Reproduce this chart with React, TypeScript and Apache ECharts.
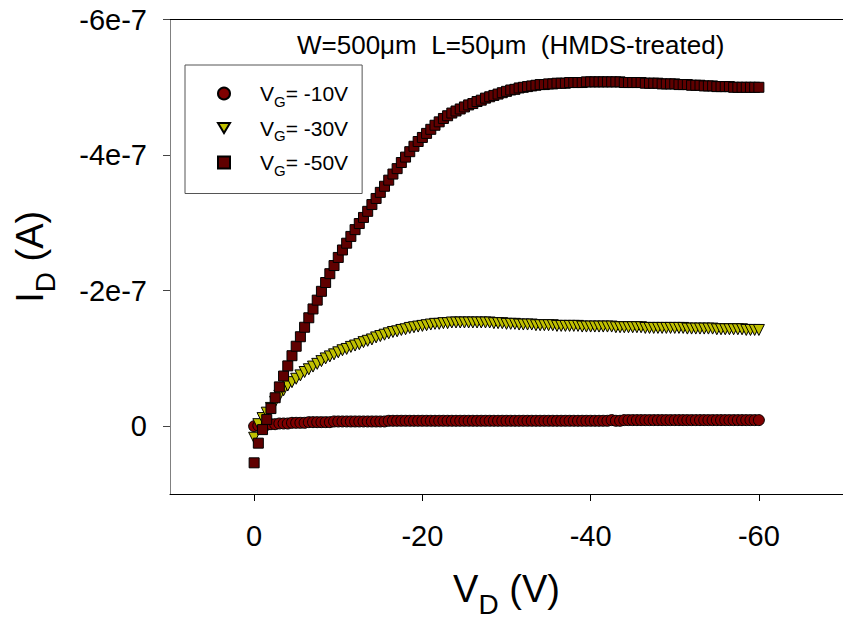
import React, { useEffect, useRef } from "react";
import * as echarts from "echarts";

const FONT = "'Liberation Sans', Arial, Helvetica, sans-serif";

// Drain voltage V_D (V)
const vd = [
  0, -0.5, -1, -1.5, -2, -2.5, -3, -3.5, -4, -4.5,
  -5, -5.5, -6, -6.5, -7, -7.5, -8, -8.5, -9, -9.5,
  -10, -10.5, -11, -11.5, -12, -12.5, -13, -13.5, -14, -14.5,
  -15, -15.5, -16, -16.5, -17, -17.5, -18, -18.5, -19, -19.5,
  -20, -20.5, -21, -21.5, -22, -22.5, -23, -23.5, -24, -24.5,
  -25, -25.5, -26, -26.5, -27, -27.5, -28, -28.5, -29, -29.5,
  -30, -30.5, -31, -31.5, -32, -32.5, -33, -33.5, -34, -34.5,
  -35, -35.5, -36, -36.5, -37, -37.5, -38, -38.5, -39, -39.5,
  -40, -40.5, -41, -41.5, -42, -42.5, -43, -43.5, -44, -44.5,
  -45, -45.5, -46, -46.5, -47, -47.5, -48, -48.5, -49, -49.5,
  -50, -50.5, -51, -51.5, -52, -52.5, -53, -53.5, -54, -54.5,
  -55, -55.5, -56, -56.5, -57, -57.5, -58, -58.5, -59, -59.5,
  -60,
];

// Drain current I_D in units of 1e-7 A
const idVg10 = [
  0, -0.01, -0.02, -0.02, -0.03, -0.03, -0.04, -0.04, -0.04, -0.05,
  -0.05, -0.05, -0.05, -0.06, -0.06, -0.06, -0.06, -0.06, -0.06, -0.07,
  -0.07, -0.07, -0.07, -0.07, -0.07, -0.07, -0.07, -0.07, -0.07, -0.07,
  -0.07, -0.07, -0.08, -0.08, -0.08, -0.08, -0.08, -0.08, -0.08, -0.08,
  -0.08, -0.08, -0.08, -0.08, -0.08, -0.08, -0.08, -0.08, -0.08, -0.08,
  -0.08, -0.08, -0.08, -0.08, -0.08, -0.08, -0.08, -0.08, -0.08, -0.08,
  -0.08, -0.08, -0.08, -0.08, -0.08, -0.08, -0.08, -0.08, -0.08, -0.08,
  -0.08, -0.08, -0.08, -0.08, -0.08, -0.08, -0.08, -0.08, -0.08, -0.08,
  -0.08, -0.08, -0.08, -0.08, -0.08, -0.09, -0.08, -0.08, -0.09, -0.09,
  -0.09, -0.09, -0.09, -0.09, -0.09, -0.09, -0.09, -0.09, -0.09, -0.09,
  -0.09, -0.09, -0.09, -0.09, -0.09, -0.09, -0.09, -0.09, -0.09, -0.09,
  -0.09, -0.09, -0.09, -0.09, -0.09, -0.09, -0.09, -0.09, -0.09, -0.09,
  -0.09,
];

const idVg30 = [
  0.17, -0.03, -0.12, -0.2, -0.27, -0.36, -0.45, -0.53, -0.6, -0.65,
  -0.7, -0.75, -0.8, -0.84, -0.88, -0.92, -0.96, -1.0, -1.03, -1.06,
  -1.09, -1.12, -1.14, -1.17, -1.19, -1.21, -1.24, -1.26, -1.28, -1.31,
  -1.33, -1.35, -1.37, -1.39, -1.4, -1.42, -1.43, -1.45, -1.46, -1.47,
  -1.48, -1.49, -1.5, -1.51, -1.51, -1.52, -1.52, -1.53, -1.53, -1.53,
  -1.53, -1.53, -1.53, -1.53, -1.53, -1.53, -1.53, -1.52, -1.52, -1.52,
  -1.51, -1.51, -1.51, -1.5, -1.5, -1.5, -1.5, -1.49, -1.49, -1.49,
  -1.49, -1.49, -1.48, -1.48, -1.48, -1.48, -1.48, -1.48, -1.47, -1.47,
  -1.47, -1.47, -1.47, -1.47, -1.47, -1.47, -1.46, -1.46, -1.46, -1.46,
  -1.46, -1.46, -1.46, -1.45, -1.45, -1.45, -1.45, -1.45, -1.45, -1.45,
  -1.45, -1.45, -1.45, -1.44, -1.44, -1.44, -1.44, -1.44, -1.44, -1.44,
  -1.43, -1.43, -1.43, -1.43, -1.43, -1.43, -1.43, -1.42, -1.42, -1.42,
  -1.42,
];

const idVg50 = [
  0.54, 0.25, 0.05, -0.1, -0.26, -0.42, -0.58, -0.74, -0.89, -1.04,
  -1.18, -1.32, -1.46, -1.6, -1.73, -1.86, -1.99, -2.12, -2.25, -2.37,
  -2.49, -2.6, -2.7, -2.8, -2.9, -2.99, -3.08, -3.17, -3.27, -3.36,
  -3.45, -3.54, -3.63, -3.72, -3.8, -3.89, -3.97, -4.05, -4.13, -4.2,
  -4.26, -4.32, -4.38, -4.44, -4.49, -4.54, -4.58, -4.62, -4.65, -4.68,
  -4.71, -4.74, -4.76, -4.79, -4.81, -4.84, -4.86, -4.88, -4.9, -4.92,
  -4.94, -4.96, -4.97, -4.99, -5.0, -5.01, -5.02, -5.03, -5.04, -5.04,
  -5.05, -5.05, -5.06, -5.06, -5.06, -5.07, -5.07, -5.07, -5.07, -5.08,
  -5.08, -5.08, -5.08, -5.08, -5.08, -5.08, -5.08, -5.08, -5.07, -5.07,
  -5.07, -5.07, -5.07, -5.06, -5.06, -5.06, -5.06, -5.05, -5.05, -5.05,
  -5.05, -5.04, -5.04, -5.04, -5.03, -5.03, -5.03, -5.02, -5.02, -5.02,
  -5.01, -5.01, -5.01, -5.01, -5.0, -5.0, -5.0, -5.0, -5.0, -5.0,
  -5.0,
];

const seriesNames = ["VG= -10V", "VG= -30V", "VG= -50V"];
const xTicks = [0, -20, -40, -60];
const yTicks = [-6, -4, -2, 0];
const titleText = "W=500\u03bcm  L=50\u03bcm  (HMDS-treated)";

export default function App() {
  const ref = useRef<HTMLDivElement>(null);

  useEffect(() => {
    if (!ref.current) return;
    const chart = echarts.init(ref.current, undefined, { renderer: "svg" });

    const nameRich = {
      m: { fontFamily: FONT, fontSize: 38, lineHeight: 58, color: "#000" },
      s: { fontFamily: FONT, fontSize: 28, lineHeight: 28, verticalAlign: "bottom", color: "#000" },
    };

    const mk = (ys: number[]) => vd.map((v, i) => [v, ys[i]]);

    chart.setOption({
      animation: false,
      backgroundColor: "#ffffff",
      title: {
        text: titleText,
        left: 297,
        top: 31.5,
        padding: 0,
        textStyle: { fontFamily: FONT, fontSize: 26, fontWeight: "normal", color: "#000", lineHeight: 26 },
      },
      legend: {
        orient: "vertical",
        left: 185,
        top: 65,
        padding: [18, 14, 16, 32],
        itemWidth: 12,
        itemHeight: 12,
        itemGap: 9,
        symbolKeepAspect: true,
        borderColor: "#555",
        borderWidth: 1,
        borderRadius: 0,
        backgroundColor: "#fff",
        data: [
          { name: seriesNames[0], icon: "circle" },
          { name: seriesNames[1], icon: "path://M0,0L12,0L6,10Z" },
          { name: seriesNames[2], icon: "rect" },
        ],
        formatter: (name: string) => `{p| }{v|V}{s|G}{t|${name.slice(2)}}`,
        textStyle: {
          fontFamily: FONT,
          fontSize: 21,
          color: "#000",
          rich: {
            p: { fontFamily: FONT, fontSize: 21, lineHeight: 30, width: 25 },
            v: { fontFamily: FONT, fontSize: 21, lineHeight: 30, color: "#000" },
            s: { fontFamily: FONT, fontSize: 15, lineHeight: 15, verticalAlign: "bottom", color: "#000" },
            t: { fontFamily: FONT, fontSize: 21, lineHeight: 30, color: "#000" },
          },
        },
      },
      grid: { left: 170, top: 19.5, width: 682.8, height: 477.5 },
      xAxis: [
        {
          type: "value",
          inverse: true,
          min: -70,
          max: 10,
          position: "bottom",
          axisLine: { show: true, onZero: false, lineStyle: { color: "#000", width: 1 } },
          axisTick: { show: true, customValues: xTicks, length: 7, lineStyle: { color: "#000" } },
          axisLabel: {
            customValues: xTicks,
            margin: 27,
            fontFamily: FONT,
            fontSize: 29,
            color: "#000",
            formatter: (v: number) => (v === 0 ? "0" : String(v)),
          },
          splitLine: { show: false },
          name: "{m|V}{s|D}{m| (V)}",
          nameLocation: "middle",
          nameGap: 66,
          nameTextStyle: { fontFamily: FONT, fontSize: 38, color: "#000", rich: nameRich },
        },
        {
          type: "value",
          inverse: true,
          min: -70,
          max: 10,
          position: "top",
          axisLine: { show: true, onZero: false, lineStyle: { color: "#000", width: 1 } },
          axisTick: { show: false },
          axisLabel: { show: false },
          splitLine: { show: false },
        },
      ],
      yAxis: {
        type: "value",
        inverse: true,
        min: -6,
        max: 1,
        axisLine: { show: true, onZero: false, lineStyle: { color: "#808080", width: 1 } },
        axisTick: { show: true, customValues: yTicks, length: 7, lineStyle: { color: "#444" } },
        axisLabel: {
          customValues: yTicks,
          margin: 23,
          fontFamily: FONT,
          fontSize: 29,
          color: "#000",
          formatter: (v: number) => (v === 0 ? "0" : `${v}e-7`),
        },
        splitLine: { show: false },
        name: "{m|I}{s|D}{m| (A)}",
        nameLocation: "middle",
        nameGap: 111,
        nameTextStyle: { fontFamily: FONT, fontSize: 38, color: "#000", rich: nameRich },
      },
      series: [
        {
          type: "scatter",
          name: seriesNames[0],
          data: mk(idVg10),
          symbol: "circle",
          symbolSize: 11,
          itemStyle: { color: "#800000", borderColor: "#000", borderWidth: 1, opacity: 1 },
          z: 2,
        },
        {
          type: "scatter",
          name: seriesNames[1],
          data: mk(idVg30),
          symbol: "triangle",
          symbolRotate: 180,
          symbolSize: 11,
          itemStyle: { color: "#c0c000", borderColor: "#000", borderWidth: 1, opacity: 1 },
          z: 3,
        },
        {
          type: "scatter",
          name: seriesNames[2],
          data: mk(idVg50),
          symbol: "rect",
          symbolSize: 10,
          itemStyle: { color: "#600000", borderColor: "#000", borderWidth: 1, opacity: 1 },
          z: 4,
        },
      ],
    });

    return () => chart.dispose();
  }, []);

  return (
    <div
      ref={ref}
      style={{ position: "fixed", left: 0, top: 0, width: 843, height: 623, background: "#fff" }}
    />
  );
}
